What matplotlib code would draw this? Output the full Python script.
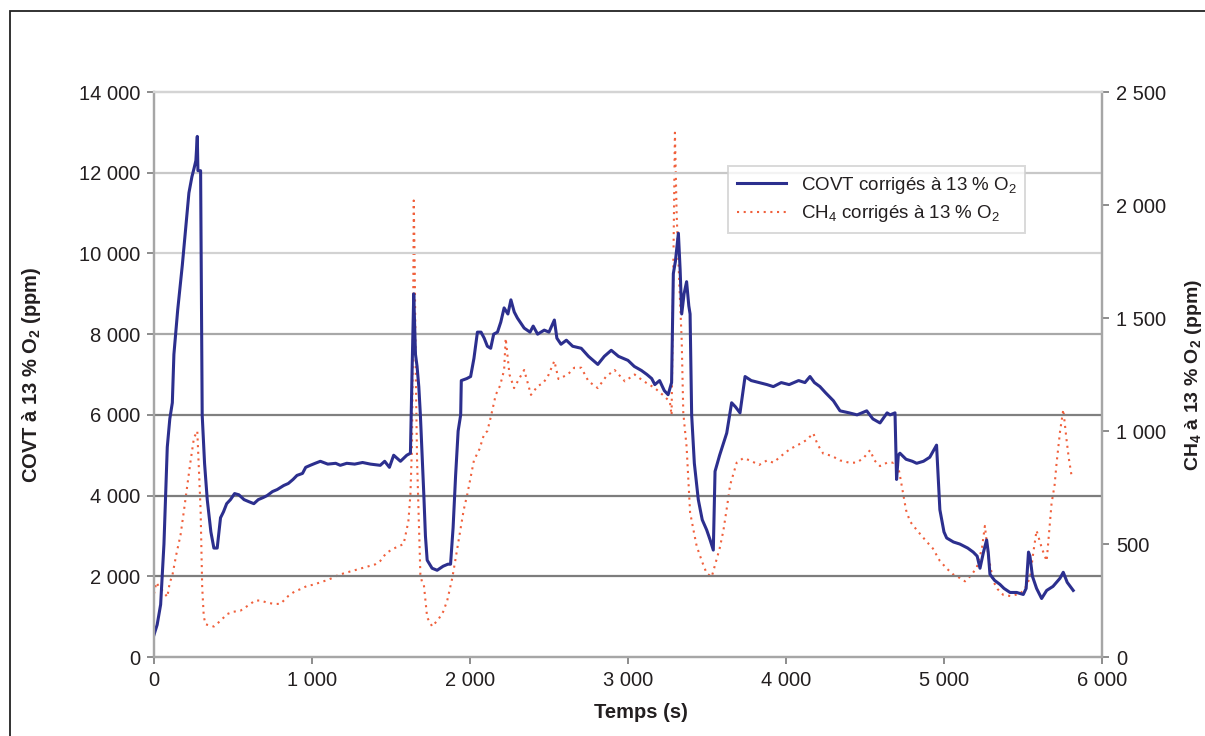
"""
COVT and CH4 concentrations (corrected to 13 % O2) over a combustion run.
"""
import matplotlib

matplotlib.use("Agg")
import matplotlib.pyplot as plt
from matplotlib.patches import Rectangle
from matplotlib.ticker import FuncFormatter, MultipleLocator

plt.rcParams["font.family"] = ["Liberation Sans", "DejaVu Sans"]
plt.rcParams["mathtext.fontset"] = "custom"
plt.rcParams["mathtext.rm"] = "Liberation Sans"
plt.rcParams["mathtext.it"] = "Liberation Sans:italic"
plt.rcParams["mathtext.bf"] = "Liberation Sans:bold"

# COVT (ppm, left axis)
covt_t = [
    0, 20, 42, 63, 84, 100, 116, 126, 150, 179, 200, 221, 240, 253, 265, 274, 278, 295,
    305, 320, 337, 360, 379, 400, 421, 440, 460, 484, 510, 537, 570, 600, 632, 660, 690,
    716, 750, 780, 821, 850, 880, 905, 940, 960, 989, 1020, 1053, 1100, 1150, 1179, 1220,
    1270, 1320, 1370, 1432, 1460, 1490, 1517, 1560, 1600, 1623, 1633, 1644, 1655, 1665,
    1676, 1686, 1697, 1708, 1718, 1729, 1760, 1792, 1830, 1860, 1877, 1893, 1909, 1925,
    1941, 1945, 1980, 2004, 2025, 2047, 2070, 2090, 2110, 2131, 2150, 2174, 2195, 2216,
    2240, 2259, 2280, 2300, 2343, 2380, 2400, 2428, 2470, 2500, 2534, 2550, 2576, 2610,
    2650, 2704, 2750, 2809, 2850, 2894, 2940, 3000, 3040, 3085, 3120, 3150, 3170, 3200,
    3230, 3254, 3276, 3287, 3300, 3319, 3330, 3340, 3355, 3371, 3385, 3393, 3403, 3420,
    3445, 3470, 3498, 3520, 3540, 3551, 3580, 3625, 3656, 3680, 3709, 3741, 3780, 3830,
    3880, 3920, 3970, 4020, 4080, 4120, 4152, 4180, 4215, 4250, 4300, 4342, 4400, 4450,
    4511, 4550, 4595, 4640, 4659, 4690, 4700, 4711, 4721, 4760, 4800, 4827, 4870, 4910,
    4953, 4974, 5000, 5017, 5060, 5100, 5150, 5185, 5210, 5228, 5250, 5270, 5280, 5291,
    5320, 5354, 5380, 5418, 5460, 5502, 5520, 5535, 5544, 5560, 5586, 5618, 5650, 5690,
    5734, 5755, 5780, 5818,
]
covt_ppm = [
    550, 800, 1300, 2800, 5200, 5900, 6300, 7500, 8600, 9700, 10600, 11500, 11900, 12100,
    12300, 12900, 12050, 12050, 6000, 4800, 3900, 3100, 2700, 2700, 3450, 3600, 3800, 3900,
    4050, 4020, 3900, 3850, 3800, 3900, 3950, 4000, 4100, 4150, 4250, 4300, 4400, 4500,
    4550, 4700, 4750, 4800, 4850, 4780, 4800, 4750, 4800, 4780, 4820, 4780, 4750, 4850,
    4700, 5000, 4850, 5000, 5050, 7000, 9000, 7500, 7200, 6700, 6000, 5000, 4000, 3000,
    2400, 2200, 2150, 2250, 2300, 2300, 3200, 4500, 5600, 6000, 6850, 6900, 6950, 7400,
    8050, 8050, 7900, 7700, 7650, 8000, 8050, 8300, 8650, 8500, 8850, 8550, 8400, 8150,
    8050, 8200, 8000, 8100, 8050, 8350, 7900, 7750, 7850, 7700, 7650, 7450, 7250, 7450,
    7600, 7450, 7350, 7200, 7100, 7000, 6900, 6750, 6850, 6600, 6500, 6800, 9500, 9800,
    10500, 9600, 8500, 9000, 9300, 8700, 8500, 6000, 4800, 3900, 3400, 3150, 2900, 2650,
    4600, 5000, 5550, 6300, 6200, 6050, 6950, 6850, 6800, 6750, 6700, 6800, 6750, 6850,
    6800, 6950, 6800, 6700, 6550, 6350, 6100, 6050, 6000, 6100, 5900, 5800, 6050, 6000,
    6050, 4400, 5000, 5050, 4900, 4850, 4800, 4850, 4950, 5250, 3650, 3100, 2950, 2850,
    2800, 2700, 2600, 2500, 2200, 2600, 2900, 2600, 2050, 1900, 1800, 1700, 1600, 1600,
    1550, 1700, 2600, 2500, 2000, 1700, 1450, 1650, 1750, 1950, 2100, 1850, 1650,
]

# CH4 (ppm, right axis)
ch4_t = [
    0, 15, 32, 60, 84, 100, 116, 140, 168, 190, 211, 230, 253, 274, 285, 295, 305, 315,
    326, 350, 379, 420, 463, 500, 547, 600, 640, 674, 720, 760, 800, 850, 890, 926, 970,
    1010, 1050, 1095, 1130, 1158, 1200, 1250, 1300, 1350, 1400, 1432, 1470, 1517, 1580,
    1610, 1623, 1633, 1640, 1644, 1650, 1656, 1665, 1676, 1686, 1697, 1708, 1729, 1761,
    1803, 1830, 1856, 1888, 1910, 1941, 1960, 1983, 2025, 2060, 2089, 2110, 2131, 2163,
    2190, 2216, 2226, 2250, 2279, 2310, 2343, 2386, 2430, 2460, 2492, 2534, 2560, 2619,
    2660, 2704, 2750, 2809, 2860, 2915, 2980, 3042, 3100, 3170, 3220, 3265, 3276, 3285,
    3297, 3308, 3325, 3340, 3350, 3371, 3393, 3415, 3435, 3470, 3498, 3530, 3560, 3580,
    3604, 3630, 3646, 3688, 3730, 3772, 3830, 3880, 3920, 3970, 4025, 4080, 4130, 4173,
    4200, 4236, 4290, 4342, 4400, 4447, 4490, 4532, 4560, 4595, 4640, 4680, 4700, 4722,
    4742, 4760, 4785, 4830, 4891, 4930, 4974, 5020, 5059, 5100, 5133, 5170, 5207, 5240,
    5259, 5280, 5312, 5340, 5375, 5420, 5481, 5510, 5544, 5565, 5586, 5620, 5650, 5681,
    5700, 5713, 5735, 5755, 5770, 5776, 5790, 5808,
]
ch4_ppm = [
    280, 330, 310, 290, 265, 330, 360, 450, 540, 650, 760, 860, 970, 1000, 820, 650, 310,
    180, 145, 140, 135, 160, 190, 200, 205, 230, 250, 250, 240, 235, 235, 270, 290, 300,
    315, 320, 330, 340, 350, 360, 370, 380, 390, 400, 410, 425, 460, 480, 500, 600, 720,
    940, 1500, 2020, 1750, 1300, 870, 600, 365, 330, 320, 175, 135, 170, 200, 250, 350,
    440, 570, 650, 720, 870, 920, 985, 1000, 1060, 1160, 1200, 1270, 1410, 1250, 1190,
    1230, 1270, 1160, 1200, 1210, 1240, 1310, 1230, 1250, 1280, 1280, 1220, 1190, 1240,
    1270, 1220, 1250, 1220, 1190, 1160, 1130, 1070, 1600, 2320, 1960, 1650, 1400, 1080,
    930, 640, 560, 490, 420, 370, 355, 430, 480, 560, 680, 760, 860, 880, 870, 850, 870,
    860, 890, 920, 940, 960, 990, 940, 900, 890, 870, 860, 860, 880, 915, 870, 845, 860,
    860, 880, 800, 720, 650, 600, 560, 510, 480, 425, 390, 365, 350, 335, 360, 395, 480,
    580, 450, 335, 300, 275, 270, 280, 300, 350, 460, 560, 480, 425, 680, 760, 860, 1000,
    1095, 1000, 960, 880, 800,
]

COVT_COLOR = "#2c2f8e"
CH4_COLOR = "#f0603c"
TEXT_COLOR = "#231f20"


def fr_thousands(v, _pos):
    return f"{v:,.0f}".replace(",", " ")


fig = plt.figure(figsize=(12.05, 7.36), dpi=100)
ax = fig.add_axes([0.1278, 0.1073, 0.7867, 0.7677])
ax2 = ax.twinx()

# horizontal grid, lighter towards the top
grid_colors = {2000: "#7d7d7d", 4000: "#7d7d7d", 6000: "#808080",
               8000: "#a8a8a8", 10000: "#d2d2d2", 12000: "#c8c8c8"}
for level, col in grid_colors.items():
    ax.axhline(level, color=col, lw=1.6, zorder=0)

ax2.plot(ch4_t, ch4_ppm, color=CH4_COLOR, lw=1.5, ls=(0, (1, 2.2)),
         label=r"CH$_4$ corrigés à 13 % O$_2$")
ax.plot(covt_t, covt_ppm, color=COVT_COLOR, lw=2.2, label=r"COVT corrigés à 13 % O$_2$")

# keep COVT line above the CH4 dots
ax.set_zorder(ax2.get_zorder() + 1)
ax.patch.set_visible(False)

ax.set_xlim(0, 6000)
ax.set_ylim(0, 14000)
ax2.set_ylim(0, 2500)
ax.xaxis.set_major_locator(MultipleLocator(1000))
ax.yaxis.set_major_locator(MultipleLocator(2000))
ax2.yaxis.set_major_locator(MultipleLocator(500))
for a in (ax, ax2):
    a.yaxis.set_major_formatter(FuncFormatter(fr_thousands))
ax.xaxis.set_major_formatter(FuncFormatter(fr_thousands))

for a in (ax, ax2):
    for side, sp in a.spines.items():
        sp.set_color("#a6a6a6")
        sp.set_linewidth(1.6)
    a.spines["top"].set_color("#d4d4d4")
ax.tick_params(axis="both", labelsize=14.5, colors="#8c8c8c", labelcolor=TEXT_COLOR,
               length=5, width=1.4, pad=5)
ax2.tick_params(axis="y", labelsize=14.5, colors="#8c8c8c", labelcolor=TEXT_COLOR,
                length=5, width=1.4, pad=5)

ax.set_xlabel("Temps (s)", fontsize=14.5, fontweight="bold", color=TEXT_COLOR)
ax.xaxis.set_label_coords(0.514, -0.082)
ax.set_ylabel(r"COVT à 13 % O$_\mathbf{2}$ (ppm)", fontsize=14.5, fontweight="bold",
              color=TEXT_COLOR)
ax.yaxis.set_label_coords(-0.117, 0.5)
ax2.set_ylabel(r"CH$_\mathbf{4}$ à 13 % O$_\mathbf{2}$ (ppm)", fontsize=14,
               fontweight="bold", color=TEXT_COLOR)
ax2.yaxis.set_label_coords(1.086, 0.5)

handles = ax.get_lines()[-1:] + ax2.get_lines()
leg = ax.legend(handles, [h.get_label() for h in handles], loc="upper left",
                bbox_to_anchor=(0.596, 0.885), fontsize=13.5, frameon=True,
                fancybox=False, edgecolor="#d0d0d0", handlelength=2.6,
                borderpad=0.45, labelspacing=0.4)
leg.get_frame().set_linewidth(1.4)
for txt in leg.get_texts():
    txt.set_color(TEXT_COLOR)

# outer frame of the figure
fig.add_artist(Rectangle((10 / 1205, -0.2), 1.5, 1.2 - 11 / 736,
                         transform=fig.transFigure, fill=False,
                         edgecolor="#222222", lw=1.3))

fig.savefig("out.png", dpi=100)
